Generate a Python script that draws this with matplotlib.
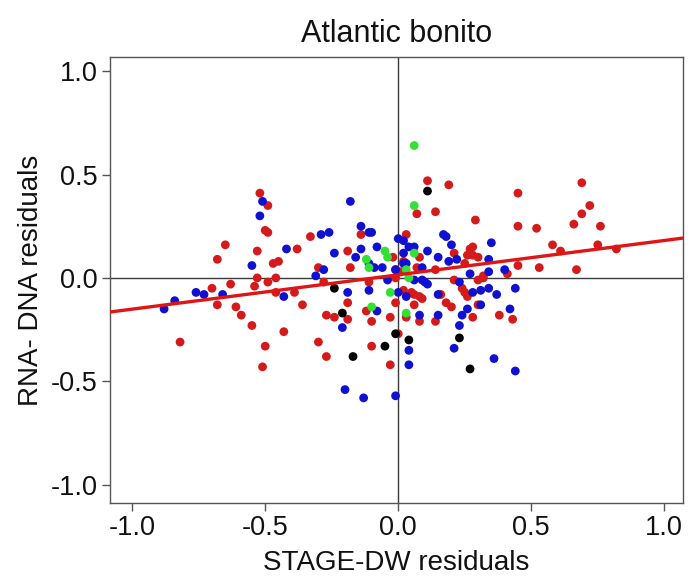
import matplotlib
matplotlib.use('Agg')
import matplotlib.pyplot as plt
import numpy as np

plt.rcParams['font.family'] = ['Liberation Sans', 'DejaVu Sans']

# residual pairs (STAGE-DW, RNA-DNA), grouped by dot colour
red_x = [-0.82, -0.70, -0.68, -0.63, -0.61, -0.59, -0.55, -0.54, -0.50, -0.51, -0.49, -0.46,
         -0.43, -0.39, -0.52, -0.49, -0.50, -0.49, -0.65, -0.68, -0.53, -0.47, -0.45, -0.53,
         -0.46, -0.36, -0.38, -0.33, -0.27, -0.24, -0.19, -0.19, -0.19, -0.14, -0.30, -0.28,
         -0.11, -0.18, -0.02, -0.01, -0.01, -0.30, -0.27, -0.10, -0.12, -0.10, -0.03, -0.03,
         0.00, -0.01, 0.11, 0.19, 0.07, 0.14, 0.29, 0.03, 0.28, 0.27, 0.28, 0.30,
         0.08, 0.02, 0.07, 0.14, 0.21, 0.26, 0.25, 0.32, 0.41, 0.01, 0.21, 0.30,
         0.32, 0.02, 0.05, 0.06, 0.09, 0.25, 0.26, 0.08, 0.06, 0.16, 0.18, 0.20,
         0.30, 0.38, 0.43, 0.28, 0.14, 0.08, 0.03, 0.24, 0.69, 0.45, 0.72, 0.69,
         0.45, 0.52, 0.66, 0.76, 0.58, 0.61, 0.75, 0.82, 0.45, 0.53, 0.67]
red_y = [-0.31, -0.05, -0.13, -0.03, -0.14, -0.18, -0.23, -0.04, -0.33, -0.43, -0.02, -0.07,
         -0.26, -0.07, 0.41, 0.35, 0.23, 0.22, 0.16, 0.09, 0.13, 0.07, 0.08, 0.00,
         0.00, -0.13, 0.14, 0.20, -0.18, -0.19, -0.20, -0.12, 0.13, 0.21, 0.05, -0.02,
         -0.02, 0.05, 0.10, 0.04, 0.00, -0.31, -0.38, -0.33, -0.16, -0.21, -0.19, -0.42,
         -0.27, -0.12, 0.47, 0.45, 0.31, 0.32, 0.28, 0.21, 0.15, 0.14, 0.11, 0.10,
         0.10, 0.08, 0.05, 0.04, 0.12, 0.11, 0.07, 0.01, 0.02, 0.03, -0.01, -0.01,
         0.00, -0.06, -0.07, -0.08, -0.10, -0.07, -0.09, -0.09, -0.13, -0.08, -0.12, -0.14,
         -0.13, -0.18, -0.20, -0.19, -0.21, -0.21, -0.19, -0.05, 0.46, 0.41, 0.35, 0.31,
         0.25, 0.24, 0.26, 0.25, 0.16, 0.13, 0.16, 0.14, 0.06, 0.05, 0.04]

blue_x = [-0.88, -0.84, -0.76, -0.73, -0.66, -0.43, -0.51, -0.52, -0.55, -0.42, -0.18, -0.14,
          -0.11, -0.10, -0.29, -0.26, -0.24, -0.14, -0.08, -0.16, 0.00, 0.02, -0.11, -0.09,
          -0.06, -0.28, -0.31, -0.04, -0.19, -0.11, 0.02, 0.04, 0.06, 0.11, 0.17, 0.18,
          0.20, 0.35, 0.15, 0.19, 0.22, 0.09, 0.02, 0.03, -0.01, 0.27, 0.34, 0.40,
          0.34, 0.06, 0.09, 0.10, 0.11, 0.23, 0.00, 0.15, 0.28, 0.31, 0.34, 0.37,
          0.44, 0.03, 0.31, 0.26, 0.24, 0.15, 0.08, 0.42, 0.23, 0.21, 0.04, 0.04,
          0.36, 0.44, -0.21, -0.08, -0.20, -0.13, -0.01]
blue_y = [-0.15, -0.11, -0.07, -0.08, -0.08, -0.09, 0.37, 0.30, 0.06, 0.14, 0.37, 0.25,
          0.22, 0.22, 0.21, 0.22, 0.12, 0.14, 0.15, 0.10, 0.19, 0.18, 0.07, 0.05,
          0.05, 0.04, 0.01, -0.01, -0.07, -0.06, 0.12, 0.15, 0.15, 0.13, 0.21, 0.20,
          0.16, 0.17, 0.10, 0.08, 0.09, 0.05, 0.07, 0.07, 0.04, 0.02, 0.03, 0.04,
          0.09, -0.01, -0.01, -0.02, -0.03, -0.02, -0.07, -0.08, -0.07, -0.06, -0.05, -0.08,
          -0.05, -0.09, -0.13, -0.15, -0.18, -0.18, -0.18, -0.15, -0.23, -0.34, -0.35, -0.42,
          -0.39, -0.45, -0.24, -0.16, -0.54, -0.58, -0.57]

green_x = [0.06, 0.06, -0.05, -0.04, -0.12, -0.11, 0.06, 0.03, 0.04, -0.03, -0.10, 0.03]
green_y = [0.64, 0.35, 0.13, 0.10, 0.09, 0.05, 0.12, 0.04, 0.00, -0.07, -0.14, -0.17]

black_x = [0.11, -0.24, -0.21, -0.17, -0.05, -0.01, 0.04, 0.23, 0.27]
black_y = [0.42, -0.05, -0.17, -0.38, -0.33, -0.27, -0.30, -0.29, -0.44]

# fitted regression line
fit_intercept = 0.015
fit_slope = 0.166

ticks = [-1.0, -0.5, 0.0, 0.5, 1.0]
tick_labels = ['-1.0', '-0.5', '0.0', '0.5', '1.0']

fig = plt.figure(figsize=(6.88, 5.88), dpi=100)
ax = fig.add_axes([0.160, 0.145, 0.833, 0.758])

xlim = (-1.083, 1.071)
ylim = (-1.087, 1.068)

ax.axhline(0, color='#3a3a3a', lw=1.0, zorder=1)
ax.axvline(0, color='#3a3a3a', lw=1.0, zorder=1)

dot = 40
ax.scatter(red_x, red_y, s=dot, color='#d41a1a', edgecolors='none', zorder=3)
ax.scatter(blue_x, blue_y, s=dot, color='#1010d0', edgecolors='none', zorder=3)
ax.scatter(green_x, green_y, s=dot, color='#33e033', edgecolors='none', zorder=3)
ax.scatter(black_x, black_y, s=dot, color='black', edgecolors='none', zorder=3)

lx = np.array(xlim)
ax.plot(lx, fit_intercept + fit_slope * lx, color='#e01515', lw=2.4, zorder=4)

ax.set_xlim(xlim)
ax.set_ylim(ylim)
ax.set_xticks(ticks)
ax.set_xticklabels(tick_labels)
ax.set_yticks(ticks)
ax.set_yticklabels(tick_labels)

for s in ax.spines.values():
    s.set_color('#555555')
    s.set_linewidth(1.0)
ax.tick_params(direction='out', length=6, width=1.0, color='#555555',
               labelsize=19.5, pad=3, labelcolor='#111111')

ax.set_title('Atlantic bonito', fontsize=22, pad=11, color='#111111')
ax.set_xlabel('STAGE-DW residuals', fontsize=20, labelpad=6, color='#111111')
ax.set_ylabel('RNA- DNA residuals', fontsize=20, labelpad=5, color='#111111')

plt.savefig('out.png', dpi=100, facecolor='white')
plt.close()
